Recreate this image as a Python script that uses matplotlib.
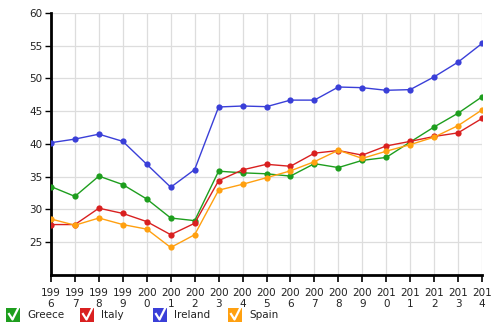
import matplotlib
matplotlib.use('Agg')
import matplotlib.pyplot as plt
from matplotlib.patches import Rectangle
from matplotlib.lines import Line2D

# Data
years = list(range(1996, 2015))
greece = [33.5, 32.0, 35.1, 33.8, 31.6, 28.7, 28.3, 35.85, 35.6, 35.45, 35.1,
          37.0, 36.4, 37.5, 37.95, 40.3, 42.6, 44.7, 47.2]
italy = [27.7, 27.7, 30.2, 29.4, 28.15, 26.15, 27.9, 34.4, 36.05, 36.9, 36.6,
         38.6, 39.0, 38.3, 39.7, 40.4, 41.15, 41.7, 43.9]
ireland = [40.2, 40.75, 41.5, 40.4, 36.9, 33.4, 36.1, 45.65, 45.8, 45.7, 46.7,
           46.7, 48.7, 48.6, 48.2, 48.3, 50.25, 52.5, 55.35]
spain = [28.55, 27.6, 28.7, 27.7, 27.0, 24.2, 26.15, 32.95, 33.85, 34.85, 35.9,
         37.3, 39.05, 37.8, 38.9, 39.9, 41.05, 42.8, 45.2]

series = [('Greece', greece, '#1e9e1e'),
          ('Italy', italy, '#d92020'),
          ('Ireland', ireland, '#3a3fd8'),
          ('Spain', spain, '#ffa010')]

fig = plt.figure(figsize=(5.0, 3.28), dpi=100)
ax = fig.add_axes([51 / 500, 53 / 328, 431 / 500, 262 / 328])

for name, vals, col in series:
    ax.plot(years, vals, color=col, linewidth=1.0, marker='o', markersize=4.5,
            markeredgewidth=0, zorder=3)

ax.set_xlim(1996, 2014)
ax.set_ylim(20, 60)
ax.set_yticks(range(25, 61, 5))
ax.set_xticks(years)
ax.set_xticklabels([f'{str(y)[:3]}\n{str(y)[3]}' for y in years], fontsize=7.5,
                   color='#222222', linespacing=1.15)
ax.tick_params(axis='y', labelsize=7.5, labelcolor='#222222', length=4, width=1, pad=2)
ax.tick_params(axis='x', length=5, width=1.2, pad=4)
ax.grid(True, color='#dddddd', linewidth=0.9, zorder=0)
ax.set_axisbelow(True)
for s in ['top', 'right']:
    ax.spines[s].set_visible(False)
for s in ['left', 'bottom']:
    ax.spines[s].set_linewidth(2.0)
    ax.spines[s].set_color('black')

# checkbox style legend at the bottom
box_x = [6, 80, 153, 228]
for (name, vals, col), bx in zip(series, box_x):
    x0 = bx / 500
    y0 = (328 - 322) / 328
    fig.patches.append(Rectangle((x0, y0), 14 / 500, 14 / 328, transform=fig.transFigure,
                                 facecolor=col, edgecolor='none'))
    fig.lines.append(Line2D([(bx + 3) / 500, (bx + 6.5) / 500, (bx + 12) / 500],
                            [(328 - 314) / 328, (328 - 319.5) / 328, (328 - 308.5) / 328],
                            transform=fig.transFigure, color='white', linewidth=1.6))
    fig.text((bx + 21) / 500, (328 - 315) / 328, name, fontsize=7.5, color='#222222',
             va='center', ha='left')

fig.savefig('out.png', dpi=100)
